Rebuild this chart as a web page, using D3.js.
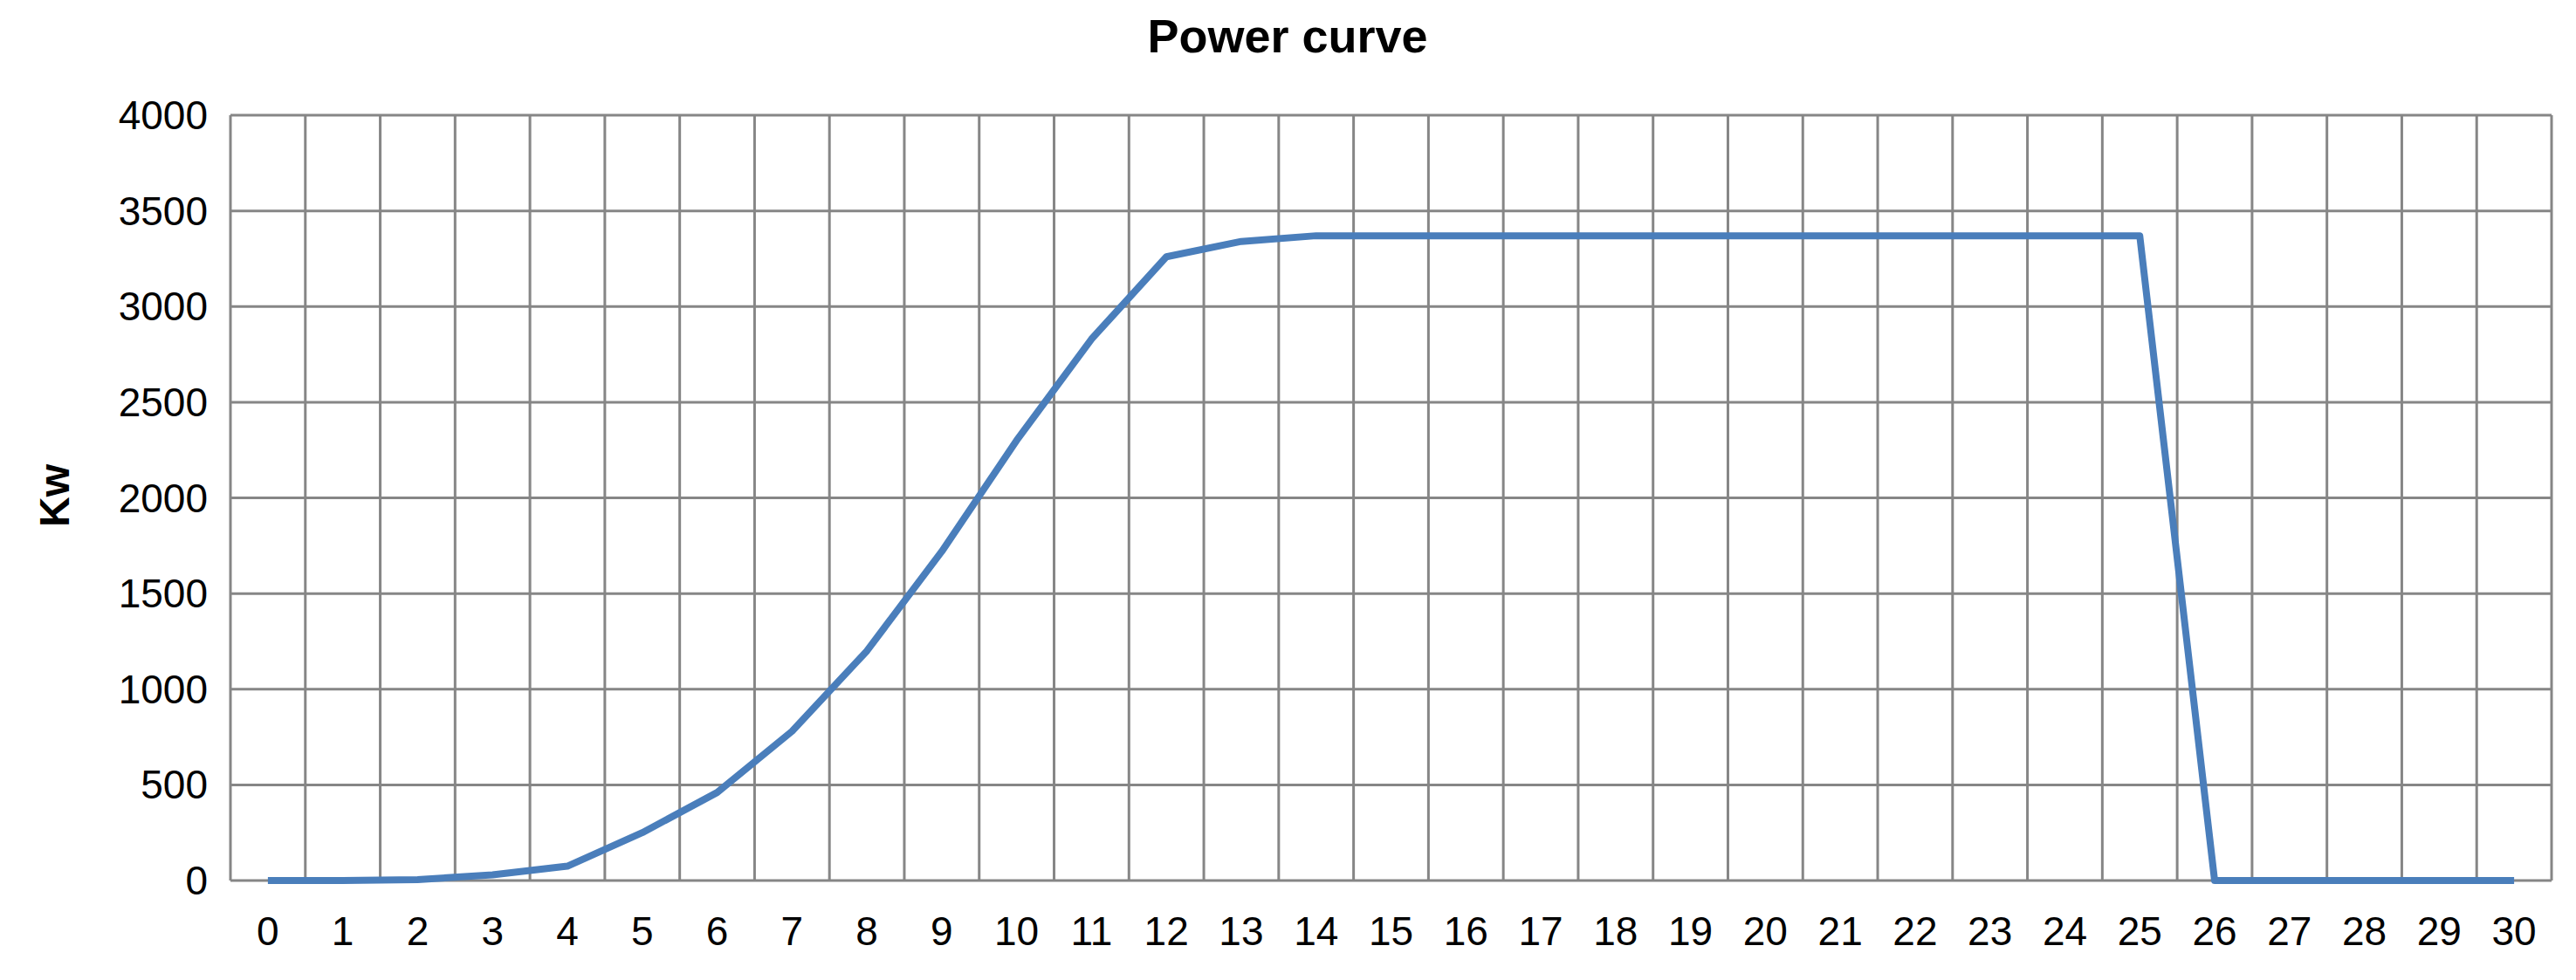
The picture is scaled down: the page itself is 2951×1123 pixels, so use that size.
<!DOCTYPE html><html><head><meta charset="utf-8"><script src="https://d3js.org/d3.v7.min.js"></script>
<style>body{margin:0;background:#fff}</style></head><body><svg id="c" width="2951" height="1123"></svg>
<script>
const categories=d3.range(0,31).map(String);
const power=[0,0,5,30,75,250,460,780,1200,1720,2300,2830,3260,3340,3370,3370,3370,3370,3370,3370,3370,3370,3370,3370,3370,3370,0,0,0,0,0];
const yTicks=[0,500,1000,1500,2000,2500,3000,3500,4000];
const svg=d3.select("#c");
const L=264,R=2923,T=132,B=1009;
const x=d3.scaleBand().domain(categories).range([L,R]);
const y=d3.scaleLinear().domain([0,4000]).range([B,T]);
const g=svg.append("g");
g.selectAll(".h").data(yTicks).join("line").attr("x1",L).attr("x2",R).attr("y1",d=>y(d)).attr("y2",d=>y(d)).attr("stroke","#868686").attr("stroke-width",3);
const edges=categories.map(c=>x(c)).concat([R]);
g.selectAll(".v").data(edges).join("line").attr("x1",d=>d).attr("x2",d=>d).attr("y1",T).attr("y2",B).attr("stroke","#868686").attr("stroke-width",3);
const ff="Liberation Sans, Arial, sans-serif";
svg.selectAll(".yt").data(yTicks).join("text").attr("x",L-26).attr("y",d=>y(d)).attr("dy","0.35em").attr("text-anchor","end").attr("font-family",ff).attr("font-size",46).text(d=>d);
svg.selectAll(".xt").data(categories).join("text").attr("x",d=>x(d)+x.bandwidth()/2).attr("y",B+58).attr("dy","0.35em").attr("text-anchor","middle").attr("font-family",ff).attr("font-size",46).text(d=>d);
svg.append("path").datum(power).attr("fill","none").attr("stroke","#4a7ebb").attr("stroke-width",8).attr("stroke-linejoin","round")
 .attr("d",d3.line().x((d,i)=>x(categories[i])+x.bandwidth()/2).y(d=>y(d)));
svg.append("text").attr("x",1475).attr("y",41).attr("dy","0.35em").attr("text-anchor","middle").attr("font-family",ff).attr("font-weight","bold").attr("font-size",54).text("Power curve");
svg.append("text").attr("transform","translate(62,568) rotate(-90)").attr("dy","0.35em").attr("text-anchor","middle").attr("font-family",ff).attr("font-weight","bold").attr("font-size",48).text("Kw");
</script></body></html>
